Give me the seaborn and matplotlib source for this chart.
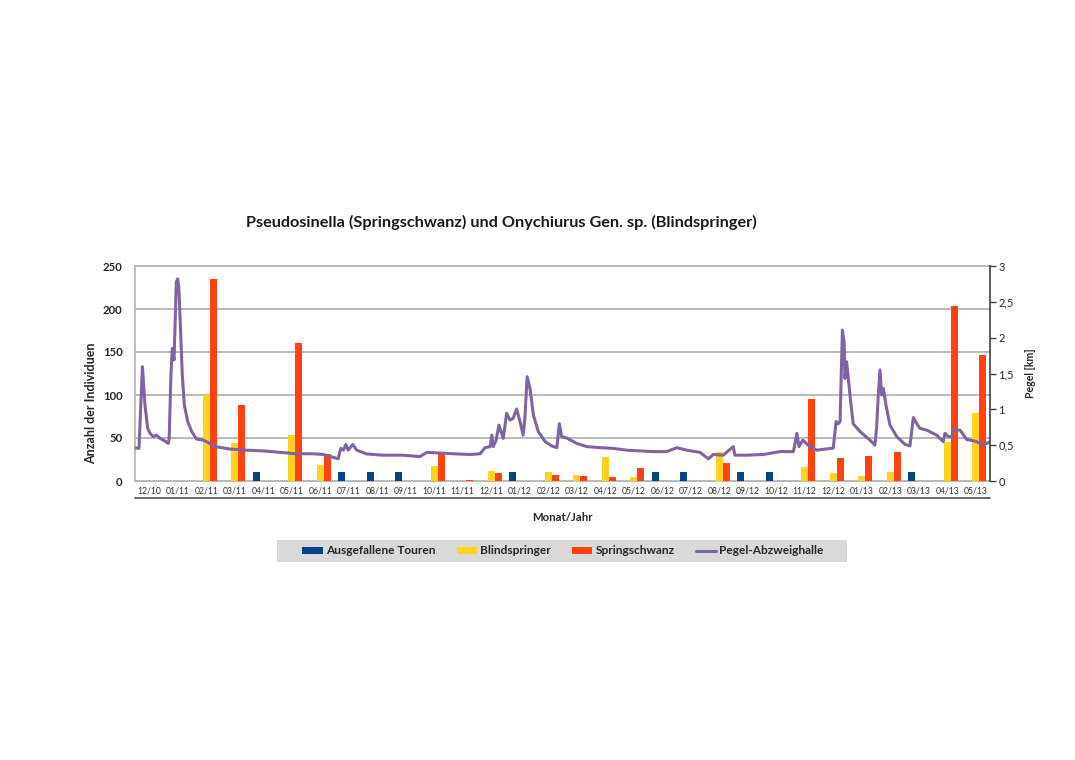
import numpy as np
import pandas as pd
import matplotlib
matplotlib.use("Agg")
import matplotlib.pyplot as plt
import seaborn as sns
from matplotlib.ticker import FuncFormatter
from matplotlib.patches import Rectangle

# ---------------- data ----------------
months = ["12/10", "01/11", "02/11", "03/11", "04/11", "05/11", "06/11", "07/11",
          "08/11", "09/11", "10/11", "11/11", "12/11", "01/12", "02/12", "03/12",
          "04/12", "05/12", "06/12", "07/12", "08/12", "09/12", "10/12", "11/12",
          "12/12", "01/13", "02/13", "03/13", "04/13", "05/13"]

ausgefallene_touren = [0, 0, 0, 0, 10, 0, 0, 10, 10, 10, 0, 0, 0, 10, 0, 0,
                       0, 0, 10, 10, 0, 10, 10, 0, 0, 0, 0, 10, 0, 0]
blindspringer = [0, 0, 100, 44, 0, 53, 19, 0, 0, 0, 18, 0, 12, 0, 10, 6.5,
                 27.5, 4.5, 0, 0, 34, 0, 0, 16.5, 9, 5.5, 11, 0, 45, 79]
springschwanz = [0, 0, 235, 88, 0, 160, 31, 0, 0, 0, 32, 1, 9, 0, 7.5, 5.5,
                 4.5, 15, 0, 0, 21, 0, 0, 95, 27, 29.5, 33.5, 0, 203, 146]

# Pegel-Abzweighalle: position in month units (0 = 12/10) and level in km
pegel_pos = [-0.5, -0.36, -0.24, -0.15, -0.055, 0.03, 0.14, 0.26, 0.38, 0.55,
             0.67, 0.70, 0.76, 0.81, 0.87, 0.90, 0.95, 1.00, 1.04, 1.10, 1.16,
             1.23, 1.35, 1.49, 1.66, 1.90, 2.07, 2.31,
             2.83, 3.42, 4.00, 4.59, 5.17, 5.76, 6.11, 6.63, 6.72, 6.81,
             6.90, 6.98, 7.14, 7.28, 7.63, 8.21, 8.91, 9.50, 9.74, 10.20, 10.67, 11.25,
             11.61, 11.78, 11.96, 12.02, 12.07, 12.17, 12.27, 12.42, 12.54, 12.66,
             12.77, 12.89, 13.01, 13.12, 13.18, 13.26, 13.36, 13.48, 13.65, 13.89,
             14.12, 14.30, 14.39, 14.47, 14.65, 15.00, 15.35, 15.82, 16.28, 16.75,
             17.22, 17.69, 18.16, 18.51, 18.86, 19.32, 19.62, 19.79, 20.14, 20.49,
             20.55, 20.96, 21.55, 22.13, 22.60, 22.66, 22.72, 22.80, 22.93, 23.12,
             23.42, 23.89, 24.00, 24.10, 24.18, 24.24, 24.32, 24.38, 24.41, 24.47,
             24.53, 24.61, 24.70, 24.94, 25.29, 25.46, 25.52, 25.58, 25.64, 25.70,
             25.76, 25.85, 25.99, 26.23, 26.52, 26.69, 26.75, 26.81, 26.93, 27.04,
             27.28, 27.63, 27.86, 27.92, 28.04, 28.16, 28.21, 28.45, 28.68, 29.03,
             29.27, 29.50]
pegel_km = [0.46, 0.456, 1.595, 1.06, 0.735, 0.665, 0.62, 0.64, 0.595, 0.558,
            0.525, 0.595, 1.48, 1.85, 1.69, 2.08, 2.78, 2.82, 2.69, 2.08, 1.48,
            1.06, 0.83, 0.69, 0.586, 0.57, 0.535, 0.48,
            0.446, 0.43, 0.42, 0.40, 0.38, 0.38, 0.37, 0.31, 0.456, 0.43,
            0.51, 0.43, 0.51, 0.43, 0.377, 0.36, 0.36, 0.34, 0.40, 0.39, 0.38, 0.37,
            0.38, 0.465, 0.48, 0.64, 0.48, 0.57, 0.78, 0.595, 0.945, 0.85,
            0.875, 1.005, 0.83, 0.64, 0.875, 1.455, 1.29, 0.92, 0.69, 0.55,
            0.49, 0.465, 0.80, 0.62, 0.60, 0.525, 0.48, 0.465, 0.455, 0.43,
            0.42, 0.41, 0.41, 0.465, 0.43, 0.40, 0.31, 0.37, 0.36, 0.48,
            0.36, 0.36, 0.37, 0.41, 0.41, 0.525, 0.665, 0.48, 0.57, 0.50,
            0.43, 0.455, 0.46, 0.83, 0.80, 0.83, 2.107, 1.94, 1.43, 1.665,
            1.43, 1.107, 0.80, 0.69, 0.57, 0.50, 0.735, 1.20, 1.55, 1.20,
            1.29, 1.06, 0.78, 0.62, 0.51, 0.49, 0.69, 0.885, 0.80, 0.735,
            0.71, 0.64, 0.55, 0.665, 0.62, 0.62, 0.71, 0.71, 0.58, 0.55,
            0.50, 0.55]

series_names = ["Ausgefallene Touren", "Blindspringer", "Springschwanz"]
line_name = "Pegel-Abzweighalle"
title = "Pseudosinella (Springschwanz) und Onychiurus Gen. sp. (Blindspringer)"
y_left_label = "Anzahl der Individuen"
y_right_label = "Pegel [km]"
x_label = "Monat/Jahr"

bar_colors = ["#004586", "#FFD320", "#FF420E"]
line_color = "#8064A2"
grid_color = "#B3B3B3"

# ---------------- plot ----------------
sns.set_theme(style="white")
plt.rcParams['font.family'] = ['Lato', 'DejaVu Sans']

W, H = 1075, 760
fig = plt.figure(figsize=(W / 100, H / 100), dpi=100)
ax = fig.add_axes([135 / W, 1 - 481 / H, 855 / W, 215 / H])

n = len(months)
df = pd.DataFrame({
    "pos": np.tile(np.arange(n), 3),
    "value": ausgefallene_touren + blindspringer + springschwanz,
    "series": np.repeat(series_names, n),
})

sns.barplot(data=df, x="pos", y="value", hue="series", hue_order=series_names,
            palette=bar_colors, saturation=1, native_scale=True, width=0.735,
            errorbar=None, linewidth=0, ax=ax)

handles, labels = ax.get_legend_handles_labels()
if ax.get_legend() is not None:
    ax.get_legend().remove()

ax.set_xlim(-0.5, n - 0.5)
ax.set_ylim(0, 250)
ax.set_yticks(range(0, 251, 50))
ax.set_xticks(range(n))
ax.set_xticklabels(months, fontsize=6.2, color="#333333")
ax.tick_params(axis="x", length=0, pad=4)
ax.tick_params(axis="y", length=0, pad=9, labelsize=8.2)
for lab in ax.get_yticklabels():
    lab.set_fontweight("bold")
ax.grid(axis="y", color=grid_color, linewidth=1.3)
ax.grid(axis="x", visible=False)
ax.set_axisbelow(True)
for gl in ax.get_ygridlines():
    gl.set_clip_on(False)
for s in ["top", "right", "bottom"]:
    ax.spines[s].set_visible(False)
ax.spines["left"].set_color(grid_color)
ax.spines["left"].set_linewidth(1.2)

ax.set_xlabel(x_label, fontsize=8.2, fontweight="bold")
ax.xaxis.set_label_coords(0.5, -0.144)
ax.set_ylabel(y_left_label, fontsize=9.0, fontweight="bold")
ax.yaxis.set_label_coords(-0.0444, 0.363)

# separator line under the month labels
ax.plot([-0.5, n - 0.5], [-0.079, -0.079], transform=ax.get_xaxis_transform(),
        color="#5A5A5A", linewidth=1.3, clip_on=False)

# secondary axis with the water level
ax2 = ax.twinx()
sns.lineplot(x=pegel_pos, y=pegel_km, ax=ax2, color=line_color, linewidth=2.2,
             sort=False, estimator=None)
ax2.set_ylim(0, 3)
ax2.set_xlim(-0.5, n - 0.5)
ax2.set_yticks(np.arange(0, 3.01, 0.5))
ax2.yaxis.set_major_formatter(FuncFormatter(
    lambda v, p: ("%g" % v).replace(".", ",")))
ax2.tick_params(axis="y", length=4, width=1, color="#404040", pad=2,
                labelsize=8.0, direction="out", right=True)
for s in ["top", "left", "bottom"]:
    ax2.spines[s].set_visible(False)
ax2.spines["right"].set_color("#404040")
ax2.spines["right"].set_linewidth(1.2)
ax2.set_ylabel(y_right_label, fontsize=7.6, fontweight="bold", rotation=90)
ax2.yaxis.set_label_coords(1.041, 0.5)
ax2.grid(False)

line_handle = ax2.lines[0]

fig.text(501 / W, 1 - 222 / H, title, ha="center", va="center", fontsize=11.7,
         fontweight="bold", color="#1a1a1a")

# legend background band
fig.patches.append(Rectangle((277 / W, 1 - 562 / H), 570 / W, 22 / H,
                             transform=fig.transFigure, facecolor="#D9D9D9",
                             edgecolor="none", zorder=0))

leg = fig.legend(handles + [line_handle], labels + [line_name],
                 loc="center", bbox_to_anchor=(563 / W, 1 - 551 / H), ncol=4,
                 frameon=False, fontsize=8.6, handlelength=1.7,
                 handleheight=0.55, handletextpad=0.25, columnspacing=1.8,
                 borderpad=0.3)
for t in leg.get_texts():
    t.set_fontweight("bold")

fig.savefig("out.png", dpi=100)
